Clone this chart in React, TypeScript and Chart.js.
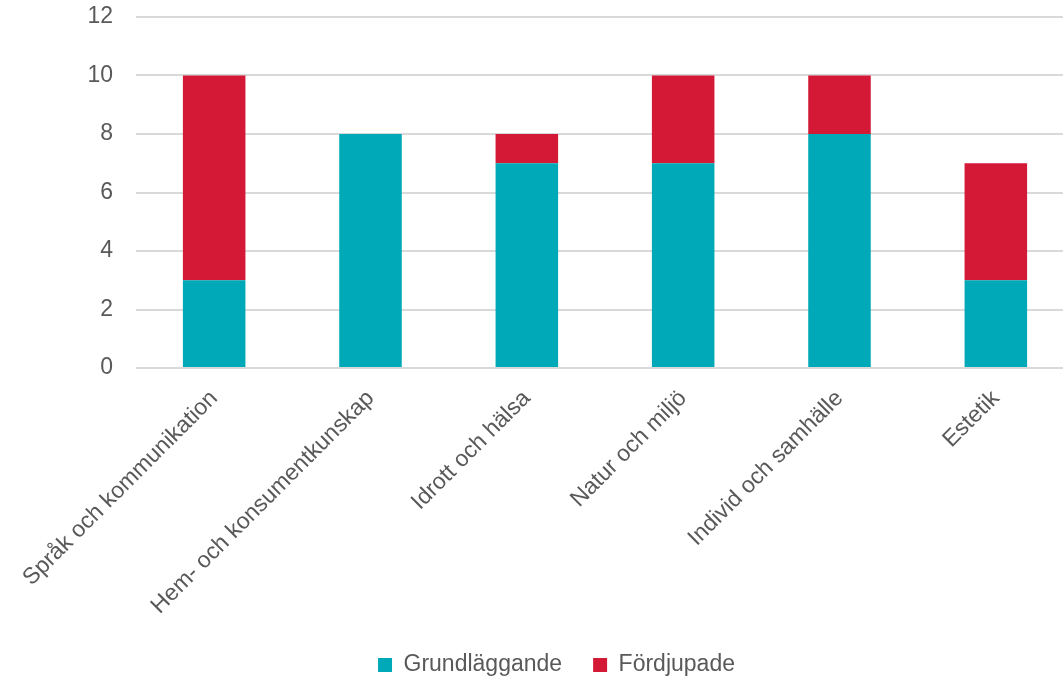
import React, { useEffect, useRef } from "react";
import { Chart, registerables } from "chart.js";

Chart.register(...registerables);

const categories = [
  "Språk och kommunikation",
  "Hem- och konsumentkunskap",
  "Idrott och hälsa",
  "Natur och miljö",
  "Individ och samhälle",
  "Estetik",
];
const grundlaggande = [3, 8, 7, 7, 8, 3];
const fordjupade = [7, 0, 1, 3, 2, 4];
const yTicks = [0, 2, 4, 6, 8, 10, 12];

export default function App() {
  const ref = useRef<HTMLCanvasElement | null>(null);
  useEffect(() => {
    document.body.style.margin = "0";
    const ctx = ref.current!;
    const font = { family: "'Liberation Sans', Arial, sans-serif", size: 23 };
    const chart = new Chart(ctx, {
      type: "bar",
      data: {
        labels: categories,
        datasets: [
          { label: "Grundläggande", data: grundlaggande, backgroundColor: "#00A9B7", categoryPercentage: 1, barPercentage: 0.4 },
          { label: "Fördjupade", data: fordjupade, backgroundColor: "#D41937", categoryPercentage: 1, barPercentage: 0.4 },
        ],
      },
      options: {
        responsive: false,
        animation: false,
        layout: { padding: { top: 17, right: 0, left: 39, bottom: -7.5 } },
        plugins: {
          legend: {
            position: "bottom",
            labels: {
              font,
              color: "#595959",
              usePointStyle: true,
              pointStyle: "rect",
              boxWidth: 14,
              boxHeight: 14,
              padding: 31,
            },
          },
          tooltip: { enabled: false },
        },
        scales: {
          x: {
            stacked: true,
            grid: { display: false },
            border: { display: false },
            ticks: { font, color: "#595959", maxRotation: 45, minRotation: 45, padding: 9, autoSkip: false },
            afterFit: (scale: any) => {
              scale.height = 254.5;
            },
          },
          y: {
            stacked: true,
            min: 0,
            max: 12,
            grid: { color: "#D9D9D9", lineWidth: 2, drawTicks: true, tickLength: 23, tickColor: "rgba(0,0,0,0)" },
            border: { display: false },
            afterBuildTicks: (scale: any) => {
              scale.ticks = yTicks.map((v) => ({ value: v }));
            },
            ticks: { font, color: "#595959", padding: 0 },
            afterFit: (scale: any) => {
              scale.width = 97;
            },
          },
        },
      },
    });
    return () => chart.destroy();
  }, []);
  return (
    <div style={{ width: 1063, height: 679, overflow: "hidden" }}>
      <canvas ref={ref} width={1074} height={679} style={{ display: "block" }} />
    </div>
  );
}
